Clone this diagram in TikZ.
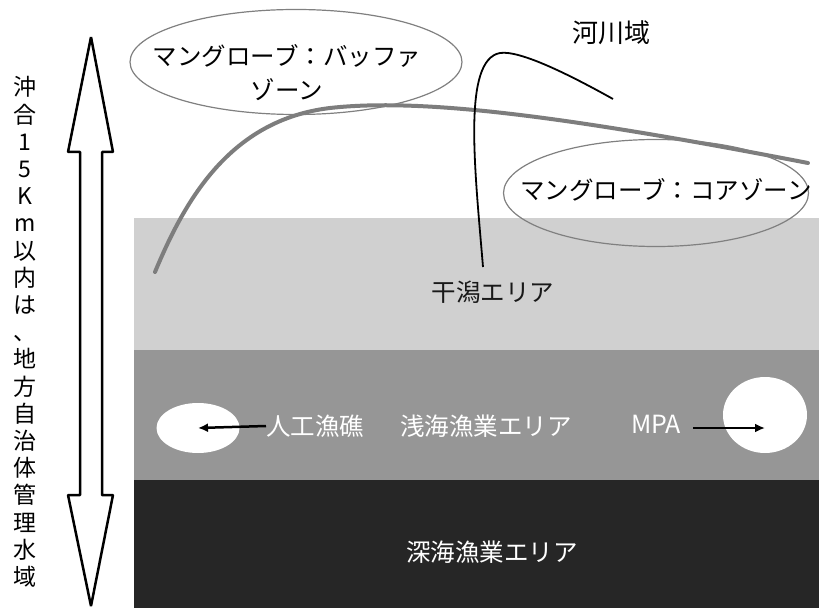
\documentclass[tikz,border=0pt]{standalone}
\usepackage{fontspec}
\setmainfont{Noto Sans CJK JP}
\usetikzlibrary{shapes.geometric,arrows.meta}

\definecolor{flatcol}{RGB}{208,208,208}
\definecolor{shallowcol}{RGB}{150,150,150}
\definecolor{deepcol}{RGB}{38,38,38}
\definecolor{coastcol}{RGB}{125,125,125}

\tikzset{
  zonelabel/.style={inner sep=0pt, align=center, font=\fontsize{24.5bp}{34bp}\selectfont},
  zoneoval/.style={ellipse, draw=gray, line width=1.2bp, inner sep=0pt},
  spot/.style={ellipse, fill=white, inner sep=0pt},
  pointer/.style={->, line width=2.5bp},
}

\begin{document}
\begin{tikzpicture}[x=1bp,y=-1bp,>={Latex[length=10bp,width=9bp]},line join=bevel]
  \useasboundingbox (0,0) rectangle (819,608);
  \fill[white] (0,0) rectangle (819,608);
%%
  % sea bands
  \fill[flatcol] (134,218) rectangle (819,350);
  \fill[shallowcol] (134,350) rectangle (819,480);
  \fill[deepcol] (134,480) rectangle (819,608);
  % coastline
  \draw[coastcol, line width=4bp, line cap=round] (155,272) .. controls (185,200) and (230,120) .. (330,108) .. controls (420,98) and (560,115) .. (808,163);
  % river
  \draw[line width=1.8bp] (483,267) .. controls (475,170) and (462,60) .. (500,53) .. controls (520,50) and (570,75) .. (613,99);
  % 15 km double arrow
  \draw[line width=2.5bp, fill=white] (91,37) -- (113,152) -- (102,152) -- (102,495) -- (113,495) -- (91,606) -- (68,495) -- (80,495) -- (80,152) -- (68,152) -- cycle;
  % Node: offshore
  \node[inner sep=0pt, align=center, font=\fontsize{23bp}{27.2bp}\selectfont] (offshore) at (25,332)
    {沖\\合\\1\\5\\K\\m\\以\\内\\は\\、\\地\\方\\自\\治\\体\\管\\理\\水\\域};
  % Node: bufferzone
  \node[zoneoval, minimum width=332bp, minimum height=105bp] (bufferzone) at (296,62) {};
  \node[zonelabel] (bufferlabel) at (287,73) {マングローブ：バッファ\\ゾーン};
  % Node: corezone
  \node[zoneoval, minimum width=305bp, minimum height=107bp] (corezone) at (656,193) {};
  \node[zonelabel] (corelabel) at (666,190) {マングローブ：コアゾーン};
  % Node: river
  \node[zonelabel, font=\fontsize{26bp}{30bp}\selectfont] (river) at (611,33) {河川域};
  % Node: tidalflat
  \node[zonelabel, text=black!90] (tidalflat) at (493,292) {干潟エリア};
  % Node: reefspot
  \node[spot, minimum width=83bp, minimum height=50bp] (reefspot) at (198,428) {};
  % Node: mpaspot
  \node[spot, minimum width=84bp, minimum height=76bp] (mpaspot) at (765,415) {};
  % Node: reef
  \node[zonelabel, text=white, anchor=west] (reef) at (266,426) {人工漁礁};
  % Node: shallow
  \node[zonelabel, text=white] (shallow) at (486,426) {浅海漁業エリア};
  % Node: mpa
  \node[zonelabel, text=white, font=\fontsize{25bp}{30bp}\selectfont] (mpa) at (656,424) {MPA};
  % Node: deep
  \node[zonelabel, text=white] (deep) at (492,552) {深海漁業エリア};
  % Edge: reef -> reefspot
  \draw[pointer] (reef.west) -- (reefspot.center);
  % Edge: mpa -> mpaspot
  \draw[pointer] ([xshift=12bp]mpa.east |- reefspot.center) -- (mpaspot.center |- reefspot.center);
%
\end{tikzpicture}
\end{document}
